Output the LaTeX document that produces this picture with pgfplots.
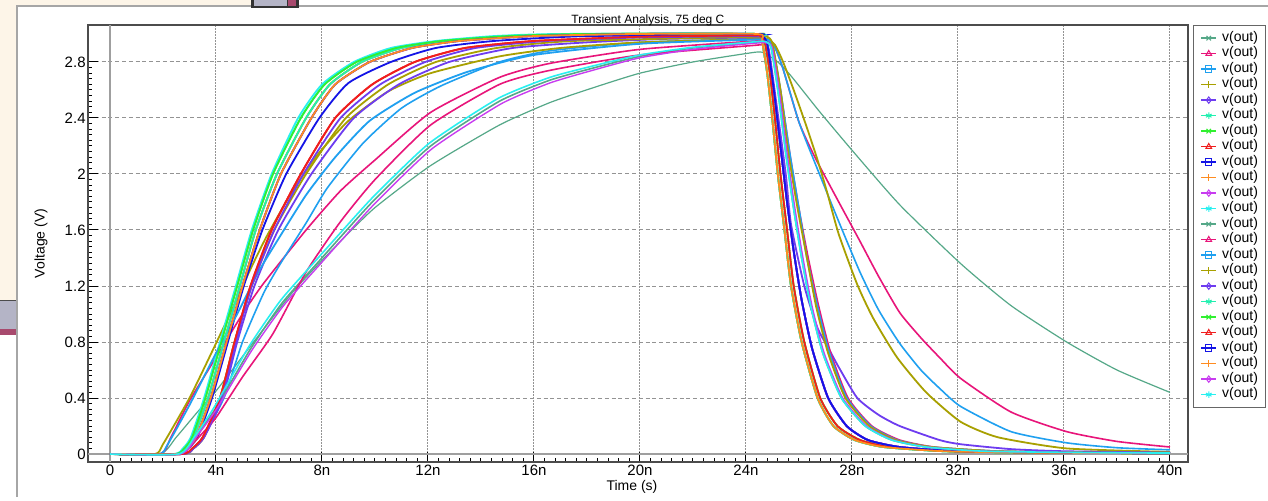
\documentclass[border=0pt]{standalone}
\usepackage{fontspec}
\setmainfont{Liberation Sans}
\usepackage{pgfplots}
\pgfplotsset{compat=1.18}

\definecolor{c1}{HTML}{55A888}
\definecolor{c2}{HTML}{E8157A}
\definecolor{c3}{HTML}{1FA0F0}
\definecolor{c4}{HTML}{A8A000}
\definecolor{c5}{HTML}{6E3CF0}
\definecolor{c6}{HTML}{20F0B0}
\definecolor{c7}{HTML}{30F030}
\definecolor{c8}{HTML}{F01E1E}
\definecolor{c9}{HTML}{1414E6}
\definecolor{c10}{HTML}{FF8C20}
\definecolor{c11}{HTML}{C83CF0}
\definecolor{c12}{HTML}{28F0F0}
\definecolor{winbeige}{HTML}{FDF5E8}
\definecolor{bargray}{HTML}{B4B4C6}
\definecolor{barpink}{HTML}{A84A6E}

% legend sample: short line with the marker in the middle
\pgfplotsset{
  mk/.style n args={2}{legend image code/.code={
    \path (0pt,-2.3pt) (7.5pt,2.3pt);
    \draw[#2, line width=0.8pt] (0pt,0pt) -- (7.5pt,0pt);
    \draw[#2, line width=0.5pt] plot[mark=#1, mark size=1.6pt] coordinates {(3.75pt,0pt)};}},
}

\begin{document}
\begin{tikzpicture}
\begin{scope}[x=0.5pt,y=-0.5pt]
\useasboundingbox (0,0) rectangle (1268,497);
\fill[white] (0,0) rectangle (1268,497);
\fill[winbeige] (0,0) rectangle (251,300);
\fill[bargray] (0,300) rectangle (17,329);
\draw[gray!60!black, line width=0.5pt] (0,300) -- (17,300);
\fill[barpink] (0,329) rectangle (17,335);
\fill[white] (17,6) rectangle (1268,497);
\draw[gray!70, line width=0.8pt] (17,497) -- (17,6) -- (1268,6);
\fill[gray!40!black] (251,0) rectangle (299,8);
\fill[bargray] (254,0) rectangle (287,6);
\fill[barpink] (288,0) rectangle (296,6);
\end{scope}

\begin{axis}[
  at={(44pt,-231pt)}, anchor=south west,
  width=550pt, height=218.5pt, scale only axis,
  xmin=-0.83, xmax=40.68, ymin=-0.057, ymax=3.064,
  xtick={0,4,8,12,16,20,24,28,32,36,40},
  xticklabels={0,4n,8n,12n,16n,20n,24n,28n,32n,36n,40n},
  ytick={0,0.4,0.8,1.2,1.6,2,2.4,2.8},
  yticklabels={0,0.4,0.8,1.2,1.6,2,2.4,2.8},
  minor x tick num=9, minor y tick num=9,
  tick pos=left, tick align=inside,
  major tick length=5pt, minor tick length=2pt,
  every tick/.style={black, line width=0.5pt},
  grid=major,
  x grid style={gray!85, line width=0.5pt, dash pattern=on 0.8pt off 0.7pt},
  y grid style={gray!85, line width=0.5pt, dash pattern=on 2pt off 1.4pt},
  axis line style={gray!60!black, line width=0.6pt},
  tick label style={font=\fontsize{7.5}{9}\selectfont},
  xticklabel style={anchor=north, inner sep=0pt, yshift=-1.5pt},
  yticklabel style={anchor=east, inner sep=0pt, xshift=-1pt},
  every axis plot/.append style={smooth, tension=0.35},
  title={Transient Analysis, 75 deg C},
  every axis title shift=0pt,
  title style={at={(0.509,1)}, anchor=south, inner sep=0pt, yshift=-0.5pt, font=\fontsize{6}{7}\selectfont},
  xlabel={Time (s)},
  xlabel style={at={(axis description cs:0.4945,-0.0572)}, anchor=center, font=\fontsize{7}{8}\selectfont},
  ylabel={Voltage (V)},
  ylabel style={at={(axis description cs:-0.0427,0.5)}, anchor=center, font=\fontsize{7}{8}\selectfont},
  legend style={at={(1.0045,1.0)}, anchor=north west, draw=gray!80!black, fill=white,
    inner xsep=3.5pt, inner ysep=2.5pt, column sep=2.5pt, row sep=0pt,
    font=\fontsize{7}{8}\selectfont,
    nodes={inner sep=0pt, text height=5.4pt, text depth=2.35pt}},
  legend cell align=left,
]
\draw[gray!75, line width=0.7pt] (axis cs:0,-0.057) -- (axis cs:0,3.064);
\draw[gray!75, line width=0.7pt] (axis cs:-0.83,0) -- (axis cs:40.68,0);

% 1 teal, slowest
\addplot[c1, line width=0.6pt, mk={x}{c1}] coordinates {(0,0)(1.9,0)(2.5,0.12)(3.3,0.3)(4,0.45)(5.5,0.82)(7,1.18)(8.7,1.52)(10,1.76)(12.1,2.06)(14.7,2.35)(16.6,2.51)(18.3,2.62)(20,2.72)(22,2.8)(24,2.86)(24.6,2.87)(25.2,2.8)(25.7,2.7)(26.8,2.44)(28,2.17)(29.8,1.78)(32.1,1.36)(34,1.06)(36.1,0.8)(38,0.6)(40,0.44)};
% 2 pink, slow fall
\addplot[c2, line width=0.8pt, mk={triangle}{c2}] coordinates {(0,0)(1.9,0)(2.3,0.12)(3,0.38)(4,0.69)(5,1.0)(5.8,1.22)(7.4,1.6)(8.7,1.88)(10,2.1)(12.1,2.44)(14.7,2.69)(16.6,2.79)(20,2.89)(24.4,2.95)(24.8,2.95)(25.1,2.9)(25.4,2.75)(26,2.37)(26.6,2.12)(27.5,1.8)(28.3,1.52)(29,1.27)(29.8,1.01)(30.6,0.83)(31.3,0.69)(32.1,0.54)(34,0.3)(36.1,0.16)(38,0.09)(40,0.05)};
% 3 sky, slow fall
\addplot[c3, line width=0.8pt, mk={square}{c3}] coordinates {(0,0)(2.7,0)(3.1,0.04)(3.5,0.12)(4.3,0.4)(5.0,0.8)(5.8,1.15)(6.4,1.35)(7.4,1.65)(8.2,1.9)(9.55,2.22)(11,2.47)(12.5,2.63)(14.7,2.8)(16.6,2.88)(20,2.94)(24.4,2.965)(24.8,2.96)(25.1,2.9)(25.4,2.75)(26,2.37)(26.6,2.08)(27.5,1.66)(28.3,1.3)(29,1.03)(29.8,0.79)(30.6,0.6)(31.3,0.47)(32.1,0.34)(34,0.16)(36.1,0.08)(38,0.045)(40,0.03)};
% 4 olive, early start, slow fall
\addplot[c4, line width=0.9pt, mk={+}{c4}] coordinates {(0,0)(1.7,0)(2.0,0.07)(3.0,0.4)(4.0,0.79)(4.65,1.05)(5.3,1.32)(5.9,1.55)(6.8,1.85)(7.8,2.13)(9.0,2.38)(10.5,2.59)(12.1,2.72)(14.7,2.84)(17,2.9)(20,2.94)(24.4,2.965)(24.8,2.965)(25.1,2.92)(25.4,2.8)(25.8,2.6)(26.3,2.33)(26.7,2.1)(27.06,1.87)(27.5,1.57)(28.2,1.21)(28.8,0.97)(29.7,0.69)(30.8,0.44)(32.1,0.23)(33.5,0.12)(36.1,0.04)(40,0.015)};
% 5 purple, slow-ish fall
\addplot[c5, line width=0.9pt, mk={diamond}{c5}] coordinates {(0,0)(2.75,0)(3.15,0.04)(3.55,0.12)(4.25,0.4)(4.8,0.8)(5.45,1.2)(6.35,1.6)(7.6,2.0)(9.2,2.4)(10.9,2.64)(12.8,2.8)(15.2,2.9)(18,2.94)(21,2.965)(24.4,2.975)(24.6,2.975)(24.85,2.9)(25.15,2.5)(25.5,2.0)(25.7,1.64)(26.2,1.2)(26.7,0.9)(27.1,0.76)(27.5,0.62)(28.2,0.4)(29,0.28)(29.8,0.2)(31.3,0.1)(32.1,0.07)(34,0.035)(36,0.02)(40,0.01)};
% 6 aqua
\addplot[c6, line width=0.9pt, mk={asterisk}{c6}] coordinates {(0,0)(2.45,0)(2.8,0.04)(3.1,0.12)(3.6,0.4)(4.2,0.8)(4.8,1.2)(5.4,1.6)(6.15,2.0)(7.2,2.4)(8.1,2.64)(9.3,2.8)(10.8,2.9)(12.5,2.95)(15,2.985)(18,3.0)(24.4,3.0)(24.6,2.95)(24.8,2.72)(25.0,2.38)(25.2,2.0)(25.45,1.6)(25.7,1.2)(26.1,0.8)(26.7,0.4)(27.3,0.2)(28.1,0.1)(29.2,0.05)(31.5,0.02)(35,0.01)(40,0.005)};
% 7 green
\addplot[c7, line width=0.9pt, mk={x}{c7}] coordinates {(0,0)(2.5,0)(2.85,0.04)(3.15,0.12)(3.7,0.4)(4.3,0.8)(4.9,1.2)(5.5,1.6)(6.3,2.0)(7.4,2.4)(8.3,2.64)(9.5,2.8)(11,2.9)(12.7,2.95)(15.5,2.985)(19,3.0)(24.4,3.0)(24.6,2.95)(24.8,2.72)(25.0,2.38)(25.2,2.0)(25.45,1.6)(25.7,1.2)(26.1,0.8)(26.7,0.4)(27.3,0.2)(28.1,0.1)(29.2,0.05)(31.5,0.02)(35,0.01)(40,0.005)};
% 8 red
\addplot[c8, line width=0.9pt, mk={triangle}{c8}] coordinates {(0,0)(2.7,0)(3.1,0.04)(3.5,0.12)(4.15,0.4)(4.7,0.8)(5.3,1.2)(6.1,1.6)(7.2,2.0)(8.5,2.4)(9.9,2.64)(11.5,2.8)(13.4,2.9)(16,2.95)(20,2.98)(24.4,2.99)(24.6,2.99)(24.8,2.93)(25.05,2.6)(25.3,2.2)(25.55,1.8)(25.8,1.45)(26.1,1.1)(26.5,0.75)(27.1,0.4)(27.8,0.2)(28.6,0.1)(29.8,0.05)(32,0.02)(36,0.01)(40,0.005)};
% 9 blue
\addplot[c9, line width=0.9pt, mk={square}{c9}] coordinates {(0,0)(2.55,0)(2.95,0.04)(3.3,0.12)(3.85,0.4)(4.45,0.8)(5.05,1.2)(5.75,1.6)(6.65,2.0)(7.9,2.4)(9.0,2.65)(10.6,2.8)(12.3,2.9)(14.5,2.95)(18,2.985)(24.4,2.99)(24.6,2.99)(24.8,2.93)(25.05,2.6)(25.3,2.2)(25.55,1.8)(25.8,1.45)(26.1,1.1)(26.5,0.75)(27.1,0.4)(27.8,0.2)(28.6,0.1)(29.8,0.05)(32,0.02)(36,0.01)(40,0.005)};
% 10 orange
\addplot[c10, line width=0.9pt, mk={+}{c10}] coordinates {(0,0)(2.5,0)(2.85,0.04)(3.15,0.12)(3.7,0.4)(4.3,0.8)(4.9,1.2)(5.5,1.6)(6.3,2.0)(7.4,2.4)(8.3,2.64)(9.5,2.8)(11,2.9)(12.7,2.95)(15.5,2.985)(19,3.0)(24.4,3.0)(24.5,3.0)(24.7,2.95)(24.9,2.72)(25.1,2.38)(25.3,2.0)(25.55,1.6)(25.8,1.2)(26.2,0.8)(26.8,0.4)(27.45,0.2)(28.3,0.1)(29.4,0.05)(31.7,0.02)(35,0.01)(40,0.005)};
% 11 violet
\addplot[c11, line width=0.9pt, mk={diamond}{c11}] coordinates {(0,0)(2.55,0)(2.9,0.04)(3.25,0.12)(3.8,0.4)(4.4,0.8)(5.0,1.2)(5.65,1.6)(6.45,2.0)(7.6,2.4)(8.5,2.64)(9.8,2.8)(11.4,2.9)(13.2,2.95)(16,2.985)(20,3.0)(24.4,3.0)(24.6,2.99)(24.8,2.93)(25.05,2.6)(25.3,2.2)(25.55,1.8)(25.8,1.45)(26.1,1.1)(26.5,0.75)(27.1,0.4)(27.8,0.2)(28.6,0.1)(29.8,0.05)(32,0.02)(36,0.01)(40,0.005)};
% 12 cyan
\addplot[c12, line width=0.9pt, mk={asterisk}{c12}] coordinates {(0,0)(2.4,0)(2.75,0.04)(3.05,0.12)(3.55,0.4)(4.15,0.8)(4.75,1.2)(5.35,1.6)(6.1,2.0)(7.1,2.4)(8.0,2.64)(9.2,2.8)(10.6,2.9)(12.3,2.95)(14.5,2.985)(17,3.0)(24.4,3.0)(24.6,2.95)(24.8,2.72)(25.0,2.38)(25.2,2.0)(25.45,1.6)(25.7,1.2)(26.1,0.8)(26.7,0.4)(27.3,0.2)(28.1,0.1)(29.2,0.05)(31.5,0.02)(35,0.01)(40,0.005)};
% 13 teal
\addplot[c1, line width=0.8pt, mk={x}{c1}] coordinates {(0,0)(2.6,0)(3.2,0.12)(4,0.33)(5.3,0.75)(6.5,1.08)(7.9,1.38)(8.7,1.55)(10,1.82)(12.1,2.2)(14.7,2.52)(16.6,2.67)(18.3,2.76)(20,2.84)(22,2.9)(24.4,2.94)(24.75,2.94)(24.95,2.9)(25.2,2.6)(25.5,2.15)(25.8,1.75)(26.1,1.4)(26.45,1.05)(26.9,0.72)(27.6,0.4)(28.5,0.2)(29.5,0.1)(30.8,0.05)(33,0.02)(37,0.01)(40,0.007)};
% 14 pink
\addplot[c2, line width=0.8pt, mk={triangle}{c2}] coordinates {(0,0)(2.6,0)(2.95,0.04)(3.4,0.13)(4,0.26)(5,0.55)(6.15,0.86)(7.4,1.3)(8.7,1.66)(10,1.96)(12.1,2.35)(14.7,2.64)(16.6,2.74)(20,2.85)(24.4,2.92)(24.8,2.93)(25.0,2.9)(25.3,2.6)(25.65,2.15)(26.0,1.75)(26.35,1.4)(26.75,1.05)(27.2,0.72)(27.85,0.4)(28.75,0.2)(29.8,0.1)(31.1,0.05)(33.5,0.02)(37,0.01)(40,0.007)};
% 15 sky
\addplot[c3, line width=0.9pt, mk={square}{c3}] coordinates {(0,0)(1.85,0)(2.15,0.06)(3.0,0.35)(4.0,0.72)(4.8,1.0)(5.6,1.3)(6.4,1.55)(7.4,1.85)(8.5,2.12)(9.8,2.38)(11.5,2.58)(13.5,2.73)(16,2.85)(20,2.93)(24.4,2.96)(24.8,2.96)(25.0,2.92)(25.3,2.6)(25.65,2.15)(26.0,1.75)(26.3,1.4)(26.7,1.05)(27.15,0.72)(27.8,0.4)(28.7,0.2)(29.7,0.1)(31,0.05)(33.5,0.02)(37,0.01)(40,0.007)};
% 16 olive
\addplot[c4, line width=0.9pt, mk={+}{c4}] coordinates {(0,0)(2.75,0)(3.15,0.04)(3.55,0.12)(4.15,0.4)(4.7,0.8)(5.35,1.2)(6.2,1.6)(7.4,2.0)(8.9,2.4)(10.5,2.64)(12.3,2.8)(14.6,2.9)(17.5,2.95)(24.4,2.98)(24.8,2.98)(25.0,2.93)(25.3,2.6)(25.6,2.15)(25.95,1.75)(26.3,1.4)(26.65,1.05)(27.1,0.72)(27.75,0.4)(28.65,0.2)(29.65,0.1)(31,0.05)(33.5,0.02)(37,0.01)(40,0.007)};
% 17 purple
\addplot[c5, line width=0.9pt, mk={diamond}{c5}] coordinates {(0,0)(2.75,0)(3.15,0.04)(3.55,0.12)(4.2,0.4)(4.75,0.8)(5.35,1.2)(6.2,1.6)(7.3,2.0)(8.7,2.4)(10.2,2.64)(11.9,2.8)(13.8,2.9)(16.5,2.95)(20,2.975)(24.4,2.985)(24.6,2.985)(24.8,2.93)(25.05,2.6)(25.3,2.2)(25.55,1.8)(25.8,1.45)(26.1,1.1)(26.5,0.75)(27.1,0.4)(27.8,0.2)(28.6,0.1)(29.8,0.05)(32,0.02)(36,0.01)(40,0.005)};
% 18 aqua
\addplot[c6, line width=0.9pt, mk={asterisk}{c6}] coordinates {(0,0)(2.5,0)(2.85,0.04)(3.15,0.12)(3.7,0.4)(4.3,0.8)(4.9,1.2)(5.5,1.6)(6.3,2.0)(7.4,2.4)(8.3,2.64)(9.5,2.8)(11,2.9)(12.7,2.95)(15.5,2.985)(19,3.0)(24.4,3.0)(24.6,2.95)(24.8,2.72)(25.0,2.38)(25.2,2.0)(25.45,1.6)(25.7,1.2)(26.1,0.8)(26.7,0.4)(27.3,0.2)(28.1,0.1)(29.2,0.05)(31.5,0.02)(35,0.01)(40,0.005)};
% 19 green
\addplot[c7, line width=0.9pt, mk={x}{c7}] coordinates {(0,0)(2.45,0)(2.8,0.04)(3.1,0.12)(3.6,0.4)(4.2,0.8)(4.8,1.2)(5.4,1.6)(6.15,2.0)(7.2,2.4)(8.1,2.64)(9.3,2.8)(10.8,2.9)(12.5,2.95)(15,2.985)(18,3.0)(24.4,3.0)(24.5,3.0)(24.7,2.95)(24.9,2.72)(25.1,2.38)(25.3,2.0)(25.55,1.6)(25.8,1.2)(26.2,0.8)(26.8,0.4)(27.45,0.2)(28.3,0.1)(29.4,0.05)(31.7,0.02)(35,0.01)(40,0.005)};
% 20 red
\addplot[c8, line width=0.9pt, mk={triangle}{c8}] coordinates {(0,0)(2.7,0)(3.1,0.04)(3.5,0.12)(4.15,0.4)(4.7,0.8)(5.3,1.2)(6.1,1.6)(7.2,2.0)(8.5,2.4)(9.9,2.64)(11.5,2.8)(13.4,2.9)(16,2.95)(20,2.98)(24.4,2.99)(24.5,2.99)(24.7,2.95)(24.9,2.72)(25.1,2.38)(25.3,2.0)(25.55,1.6)(25.8,1.2)(26.2,0.8)(26.8,0.4)(27.45,0.2)(28.3,0.1)(29.4,0.05)(31.7,0.02)(35,0.01)(40,0.005)};
% 21 blue
\addplot[c9, line width=0.9pt, mk={square}{c9}] coordinates {(0,0)(2.55,0)(2.9,0.04)(3.25,0.12)(3.8,0.4)(4.4,0.8)(5.0,1.2)(5.65,1.6)(6.45,2.0)(7.6,2.4)(8.5,2.64)(9.8,2.8)(11.4,2.9)(13.2,2.95)(16,2.985)(20,3.0)(24.4,3.0)(24.6,2.99)(24.8,2.93)(25.05,2.6)(25.3,2.2)(25.55,1.8)(25.8,1.45)(26.1,1.1)(26.5,0.75)(27.1,0.4)(27.8,0.2)(28.6,0.1)(29.8,0.05)(32,0.02)(36,0.01)(40,0.005)};
% 22 orange
\addplot[c10, line width=0.9pt, mk={+}{c10}] coordinates {(0,0)(2.55,0)(2.9,0.04)(3.25,0.12)(3.8,0.4)(4.4,0.8)(5.0,1.2)(5.65,1.6)(6.45,2.0)(7.6,2.4)(8.5,2.64)(9.8,2.8)(11.4,2.9)(13.2,2.95)(16,2.985)(20,3.0)(24.4,3.0)(24.6,2.95)(24.8,2.72)(25.0,2.38)(25.2,2.0)(25.45,1.6)(25.7,1.2)(26.1,0.8)(26.7,0.4)(27.3,0.2)(28.1,0.1)(29.2,0.05)(31.5,0.02)(35,0.01)(40,0.005)};
% 23 violet
\addplot[c11, line width=0.7pt, mk={diamond}{c11}] coordinates {(0,0)(2.65,0)(3.25,0.12)(4.05,0.33)(5.35,0.74)(6.55,1.06)(7.95,1.36)(8.75,1.53)(10.05,1.8)(12.15,2.18)(14.75,2.5)(16.6,2.65)(18.3,2.745)(20,2.83)(22,2.89)(24.4,2.935)(24.8,2.935)(25.0,2.9)(25.25,2.6)(25.55,2.15)(25.85,1.75)(26.15,1.4)(26.5,1.05)(26.95,0.72)(27.65,0.4)(28.55,0.2)(29.55,0.1)(30.85,0.05)(33,0.02)(37,0.01)(40,0.007)};
% 24 cyan
\addplot[c12, line width=0.8pt, mk={asterisk}{c12}] coordinates {(0,0)(2.58,0)(3.18,0.12)(3.95,0.34)(5.25,0.77)(6.45,1.1)(7.85,1.4)(8.65,1.57)(9.95,1.84)(12.05,2.22)(14.65,2.54)(16.6,2.69)(18.3,2.775)(20,2.85)(22,2.905)(24.4,2.945)(24.75,2.945)(24.95,2.9)(25.2,2.6)(25.5,2.15)(25.8,1.75)(26.1,1.4)(26.45,1.05)(26.9,0.72)(27.6,0.4)(28.5,0.2)(29.5,0.1)(30.8,0.05)(33,0.02)(37,0.01)(40,0.007)};
\legend{v(out),v(out),v(out),v(out),v(out),v(out),v(out),v(out),v(out),v(out),v(out),v(out),v(out),v(out),v(out),v(out),v(out),v(out),v(out),v(out),v(out),v(out),v(out),v(out)}
\end{axis}
\end{tikzpicture}
\end{document}
